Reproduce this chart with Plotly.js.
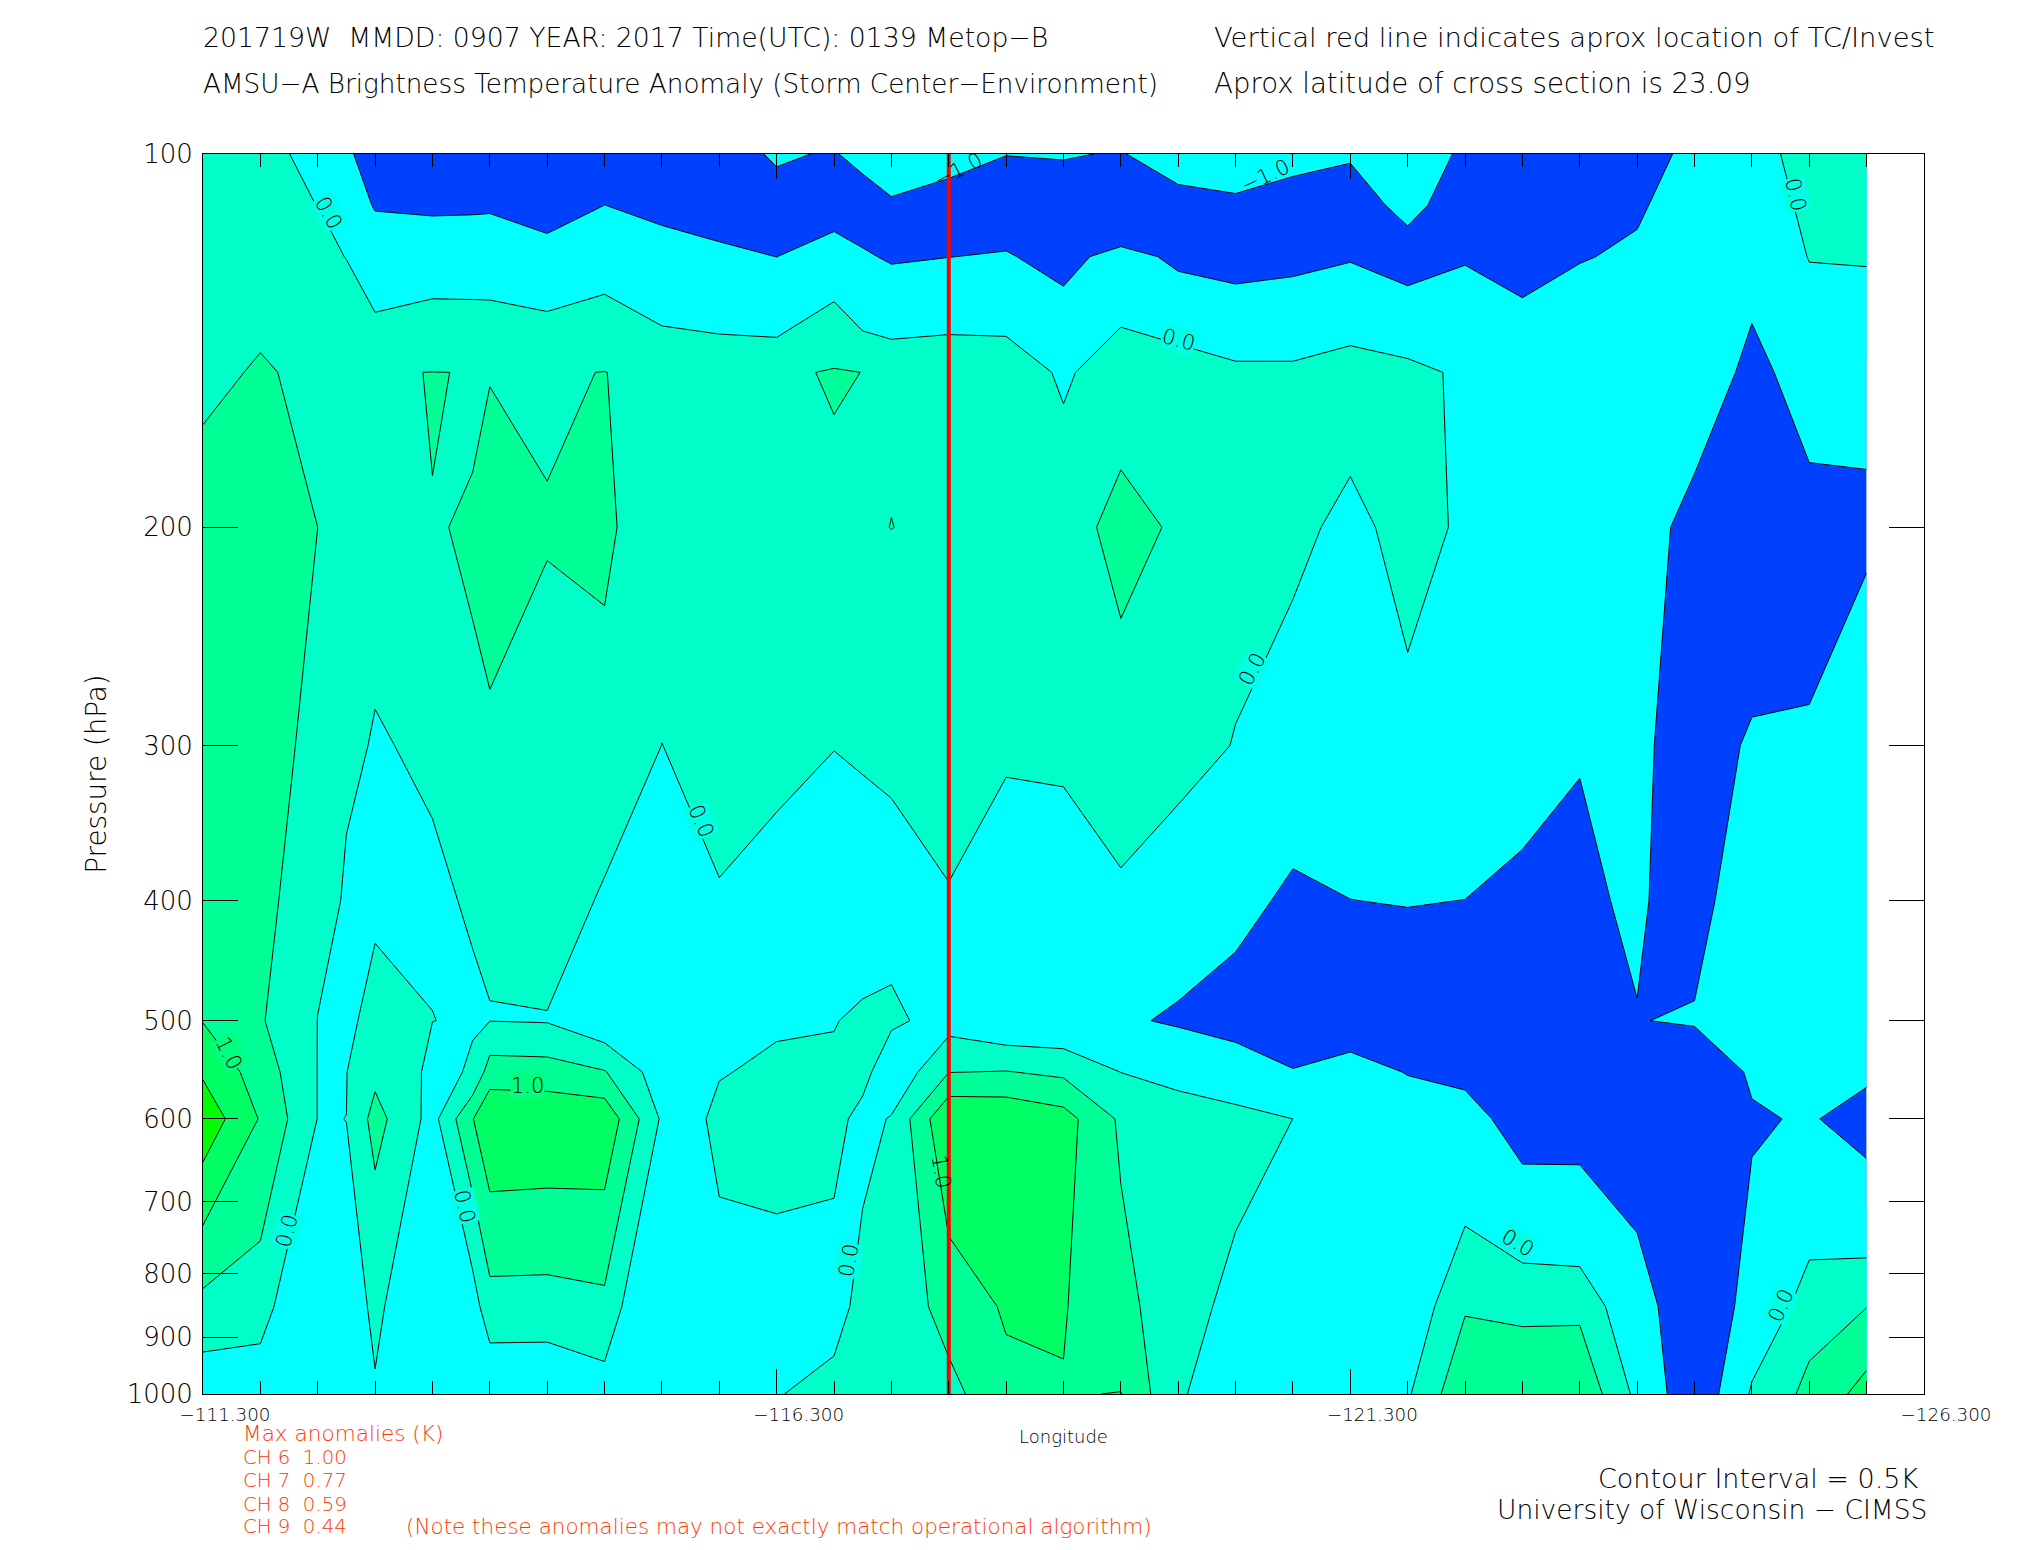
<!DOCTYPE html>
<html><head><meta charset="utf-8">
<script src="https://cdn.plot.ly/plotly-3.0.1.min.js"></script>
<style>html,body{margin:0;padding:0;background:#fff}</style></head>
<body><div id="g" style="width:2025px;height:1550px"></div>
<script>
const pressures=[100,110,121,150,200,300,400,500,550,600,850,1000];
const lons=[-111.3,-111.8,-112.3,-112.55,-112.8,-113.3,-113.65,-113.8,-114.3,-114.8,-115.3,-115.8,-116.3,-116.8,-117.05,-117.3,-117.8,-118.3,-118.8,-119.3,-119.8,-120.3,-120.8,-121.3,-121.8,-122.3,-122.8,-123.3,-123.8,-124.3,-124.8,-125.3,-125.8];
const profiles=[
[.2,.2,.2,.25,.99,.87,.93,.98,1.43,1.84,.358,-.33],
[.07,.03,.01,.6,.85,.875,.693,.545,.766,.965,.25,-.338],
[-.067,-.001,.12,.27,.5,.26,.09,-.005,-.008,-.01,-.8,-.5],
[-.8,-.46,-.01,.37,.25,.03,-.0225,-.02,-.009,.001,-.054,-.08],
[-1.59,-1.07,-.45,.485,.05,-.01,-.0166,.03,.371,.68,.02,-.008],
[-1.8,-1.186,-.288,.503,.4985,.0194,-.0217,.002,-.088,-.17,-.1,-.5],
[-1.85,-1.16,-.292,.496,.5022,.497,.0127,-.019,.03,.98,-.237,-.35],
[-1.9,-1.133,-.297,.495,.549,.483,.03,-.006,.745,1.43,.323,-.453],
[-2.2,-1.7,-.4276,.474,.511,.439,.323,-.03,.72,1.4,.316,-.46],
[-1.8,-.994,-.243,.505,.556,.4,-.072,-.4,.53,1.37,.39,-.23],
[-1.8,-1.26,-.596,.4,.3,-.004,-.3,-.5,-.274,-.07,-.9,-.5],
[-1.35,-1.71,-.709,.35,.3,.196,-.034,-.033,-.005,.021,-.0295,-.04],
[-.9,-1.3,-1.007,.436,.3,.1,-.133,-.011,.016,.04,-.039,-.03],
[-1.07,-1.69,-.337,.53,.42,.005,-.142,-.0225,.084,.18,-.2455,.189],
[-.665,-1.52,-.893,.497,.45,.104,-.45,.1,.19,-.182,.2,.3],
[-.29,-1.145,-1.1,.44,.504,.12,-.233,.1,-.42,.04,.1,.3],
[-.637,-1.4,-1.01,.49,.42,.35,-.048,-.2125,.49,1.47,.72,.34],
[-.98,-1.56,-.93,.42,.45,.1,-.39,-.475,.52,1.42,1.052,.89],
[-.92,-1.6,-1.305,-.109,.428,.15,-.414,-.48,.4,1.2,1.03,.98],
[-1.07,-2.48,-.64,.41,.553,.426,-.114,-.89,-.005,.42,.65,1.01],
[-.37,-1.43,-1.2,.382,.479,.3,-.489,-1.1,-.3,.45,.2,.03],
[-.665,-1.1,-1.354,.144,.3,-.033,-.7,-1.4,-.45,.2,-.133,-.157],
[-.767,-1.3,-1.235,.131,.15,-.305,-1.18,-1.5,-.962,-.001,-.4,-.5],
[-.906,-1.43,-1.067,.32,-.156,-.5,-1.005,-1.6,-.616,-.3,-.4,-.5],
[-.2,-.73,-1.4,.19,.2,-.149,-.97,-1.5,-1.04,-.5,-.4,-.058],
[-1.226,-1.5,-1.07,-.12,-.082,-.3,-1.005,-1.6,-1.25,-.6,.45,.9],
[-1.5,-1.6,-1.44,-.2,-.2,-.5,-1.246,-1.8,-1.8,-1.457,.44,.7],
[-1.5,-1.6,-1.044,-.3,-.3,-.96,-1.15,-1.8,-1.8,-1.45,.39,.9],
[-1.5,-1.1,-.887,-.35,-.3,-.8,-.87,-1.03,-1.8,-1.8,-.482,-.12],
[-.69,-.6,-.5,-.05,-1.5,-1.47,-1.5,-.9,-1.8,-1.8,-1.9,-1.8],
[-.15,-.27,-.48,-1.38,-1.8,-.88,-.1,-.5,-.867,-1.1,-.61,.1],
[.15,.1,.02,-.4,-1.43,-.9,-.5,-.5,-.7,-.91,.3,.62],
[.25,.2,.055,-.58,-1.25,-.05,-.3,-.4,-.807,-1.4,.49,1.19]
];
const stormLon=[-117.8,-117.8];
const stormP=[100,1000];
const yTicks=[100,200,300,400,500,600,700,800,900,1000];
const xMajor=[-111.3,-116.3,-121.3,-126.3];
const xMajorText=['\u2212111.300','\u2212116.300','\u2212121.300','\u2212126.300'];
const xMinor=[-111.8,-112.3,-112.8,-113.3,-113.8,-114.3,-114.8,-115.3,-115.8,-116.8,-117.3,-117.8,-118.3,-118.8,-119.3,-119.8,-120.3,-120.8,-121.8,-122.3,-122.8,-123.3,-123.8,-124.3,-124.8,-125.3,-125.8];
const bandColors=['#0040ff','#00ffff','#00ffff','#00ffc8','#00ff96','#00ff64','#00ff00'];

const z=pressures.map((_,r)=>profiles.map(c=>c[r]));
const FONT='DejaVu Sans';
const W=2025,H=1550,L=203.3,R=100.5,T=154.3,B=155.5;
const px=x=>(x-L)/(W-L-R), py=y=>1-(y-T)/(H-T-B);

const base={type:'contour',x:lons,y:pressures,z:z,showscale:false,hoverinfo:'skip',autocontour:false};
const traces=[
 Object.assign({},base,{contours:{start:-1,end:1.5,size:.5,coloring:'fill',showlines:false},
   colorscale:bandColors.map((c,i)=>[i/(bandColors.length-1),c]),line:{width:0,smoothing:0}}),
 Object.assign({},base,{contours:{start:-1,end:-1,size:1,coloring:'none'},line:{color:'#000',width:1,smoothing:0}}),
 Object.assign({},base,{contours:{start:0,end:1.5,size:.5,coloring:'none'},line:{color:'#000',width:1,smoothing:0}}),
 {type:'scatter',mode:'lines',x:stormLon,y:stormP,line:{color:'#ff0000',width:4},hoverinfo:'skip',showlegend:false}
];

function txt(x,y,text,opt){
  opt=opt||{};
  return {xref:'paper',yref:'paper',x:px(x),y:py(y),text:text,showarrow:false,
    xanchor:opt.a||'left',yanchor:'middle',textangle:opt.angle||0,borderpad:0,
    bgcolor:opt.bg||'rgba(0,0,0,0)',
    font:{family:FONT,size:opt.size||25,color:opt.color||'#000',weight:200}};
}
const RED='#ff3800';
const ann=[
 txt(202,37.5,'201719W&#160;&#160;MMDD: 0907 YEAR: 2017 Time(UTC): 0139 Metop\u2212B',{size:26.7}),
 txt(202,84,'AMSU\u2212A Brightness Temperature Anomaly (Storm Center\u2212Environment)',{size:26.25}),
 txt(1213,37.5,'Vertical red line indicates aprox location of TC/Invest',{size:27.4}),
 txt(1213,84,'Aprox latitude of cross section is 23.09',{size:27.6}),
 txt(242,1434,'Max anomalies (K)',{size:21.6,color:RED}),
 txt(242,1458,'CH 6&#160;&#160;1.00',{size:19.7,color:RED}),
 txt(242,1481,'CH 7&#160;&#160;0.77',{size:19.7,color:RED}),
 txt(242,1505,'CH 8&#160;&#160;0.59',{size:19.7,color:RED}),
 txt(242,1527,'CH 9&#160;&#160;0.44',{size:19.7,color:RED}),
 txt(405,1527,'(Note these anomalies may not exactly match operational algorithm)',{size:21.5,color:RED}),
 txt(1920,1479,'Contour Interval = 0.5K',{size:27,a:'right'}),
 txt(1929,1510,'University of Wisconsin \u2212 CIMSS',{size:26.5,a:'right'}),
];
const contourLabels=[
 [329,213,'0.0',61,'#00ffe4'],[958.6,170.6,'\u22121.0',-27,''],[1265.7,176.7,'\u22121.0',-25,''],
 [1179.4,340,'0.0',15,'#00ffe4'],[1796.3,195,'0.0',77,'#00ffe4'],[1253,669.8,'0.0',-62,'#00ffe4'],
 [701.7,821,'0.0',66,'#00ffe4'],[228.8,1053.7,'1.0',63,'#00ff7c'],[287,1231.2,'0.0',-75,'#00ffe4'],
 [464.7,1206.7,'0.0',77,'#00ffe4'],[527.4,1086.3,'1.0',0,'#00ff7c'],[848.7,1261,'0.0',-80,'#00ffe4'],
 [942,1172,'1.0',80,''],[1518.2,1243.5,'0.0',31,'#00ffe4'],[1781,1306,'0.0',-66,'#00ffe4']
];
contourLabels.forEach(l=>ann.push(txt(l[0],l[1],l[2],{size:21,angle:l[3],a:'center',bg:l[4]||undefined})));

const layout={width:W,height:H,paper_bgcolor:'#fff',plot_bgcolor:'#fff',showlegend:false,
 margin:{l:L,r:R,t:T,b:B,pad:0},
 xaxis:{range:[-111.3,-126.3],tickmode:'array',tickvals:xMajor,ticktext:xMajorText,ticks:'inside',ticklen:25,tickwidth:1,tickcolor:'#000',
   mirror:'allticks',showline:true,linecolor:'#000',linewidth:1,showgrid:false,zeroline:false,layer:'above traces',
   tickfont:{family:FONT,size:18.3,color:'#000',weight:200},ticklabelshift:-22,ticklabelstandoff:4,
   minor:{tickmode:'array',tickvals:xMinor,ticks:'inside',ticklen:13,tickwidth:1,tickcolor:'#000',showgrid:false},
   title:{text:'Longitude',standoff:6,font:{family:FONT,size:18,color:'#000',weight:200}}},
 yaxis:{type:'log',range:[3,2],tickmode:'array',tickvals:yTicks,ticktext:yTicks.map(String),ticks:'inside',ticklen:35,tickwidth:1,tickcolor:'#000',
   mirror:'allticks',showline:true,linecolor:'#000',linewidth:1,showgrid:false,zeroline:false,layer:'above traces',
   tickfont:{family:FONT,size:26,color:'#000',weight:200},ticklabelstandoff:4,
   title:{text:'Pressure (hPa)',standoff:11,font:{family:FONT,size:27.8,color:'#000',weight:200}}},
 annotations:ann};
Plotly.newPlot('g',traces,layout,{displayModeBar:false,staticPlot:true});
</script></body></html>
